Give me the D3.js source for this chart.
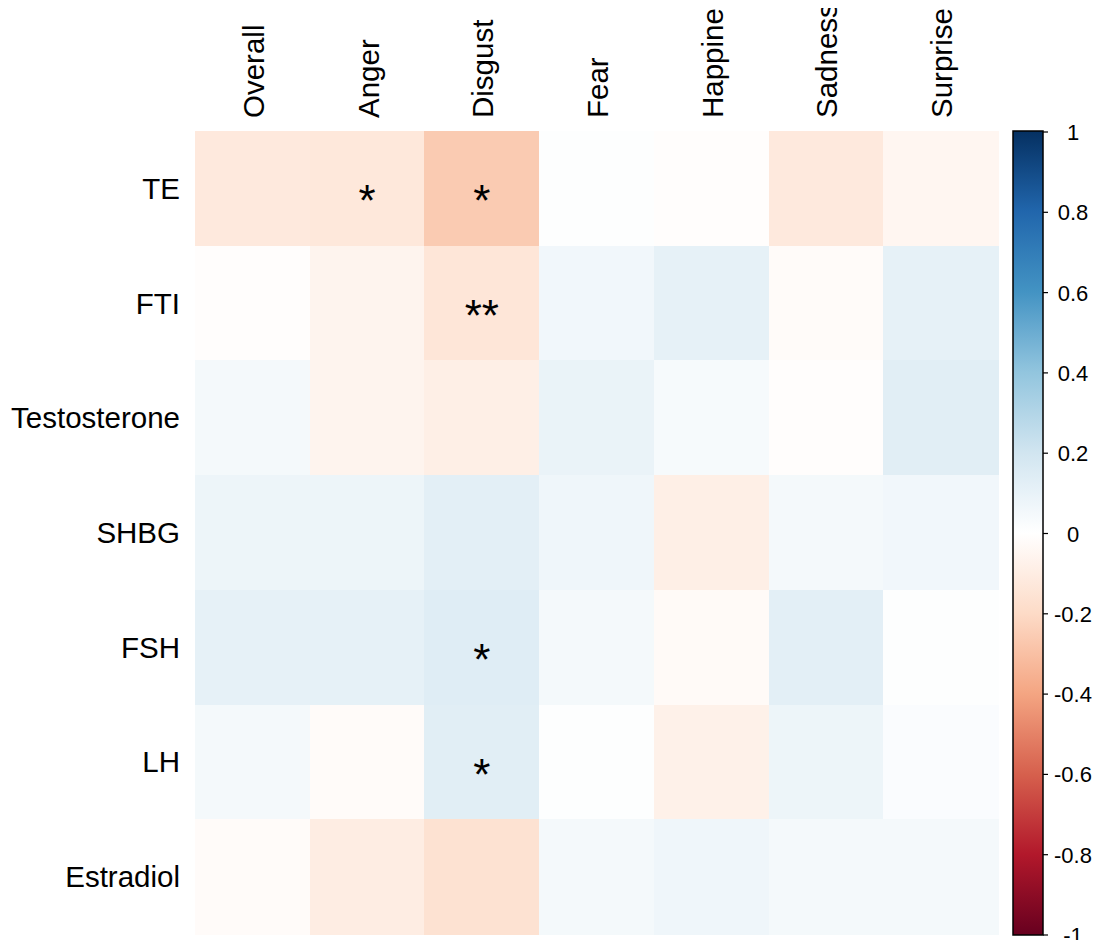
<!DOCTYPE html>
<html>
<head>
<meta charset="utf-8">
<script src="https://cdn.jsdelivr.net/npm/d3@7"></script>
<style>
  html, body { margin: 0; padding: 0; background: #fff; }
  svg { display: block; }
  text { font-family: "Liberation Sans", Arial, sans-serif; fill: #000; }
</style>
</head>
<body>
<svg id="chart" width="1102" height="940"></svg>
<script>
// Hormones (rows) and emotion-recognition scores (columns)
const rows = ["TE", "FTI", "Testosterone", "SHBG", "FSH", "LH", "Estradiol"];
const cols = ["Overall", "Anger", "Disgust", "Fear", "Happiness", "Sadness", "Surprise"];

// Correlation coefficients, one array per hormone, in column order
const rTE           = [-0.12, -0.13, -0.26,  0.01, -0.01, -0.12, -0.05];
const rFTI          = [-0.01, -0.06, -0.14,  0.06,  0.11, -0.02,  0.11];
const rTestosterone = [ 0.05, -0.06, -0.09,  0.09,  0.04, -0.01,  0.13];
const rSHBG         = [ 0.08,  0.08,  0.12,  0.07, -0.09,  0.05,  0.06];
const rFSH          = [ 0.11,  0.11,  0.14,  0.05, -0.03,  0.12,  0.01];
const rLH           = [ 0.05, -0.02,  0.13,  0.01, -0.08,  0.08,  0.02];
const rEstradiol    = [-0.02, -0.10, -0.16,  0.05,  0.07,  0.05,  0.05];

// Significance marks: [row, column, stars]
const sigMarks = [
  ["TE", "Anger", "*"],
  ["TE", "Disgust", "*"],
  ["FTI", "Disgust", "**"],
  ["FSH", "Disgust", "*"],
  ["LH", "Disgust", "*"]
];

// Colour legend tick labels
const legendTicks = [1, 0.8, 0.6, 0.4, 0.2, 0, -0.2, -0.4, -0.6, -0.8, -1];

const matrix = [rTE, rFTI, rTestosterone, rSHBG, rFSH, rLH, rEstradiol];
const cells = [];
matrix.forEach((vals, i) => vals.forEach((v, j) => cells.push({ row: rows[i], col: cols[j], value: v })));

// Diverging red-white-blue palette
const rdbu = ["#67001F", "#B2182B", "#D6604D", "#F4A582", "#FDDBC7", "#FFFFFF",
              "#D1E5F0", "#92C5DE", "#4393C3", "#2166AC", "#053061"];
const color = d3.scaleLinear()
  .domain(d3.range(11).map(k => -1 + k * 0.2))
  .range(rdbu)
  .interpolate(d3.interpolateRgb)
  .clamp(true);

const svg = d3.select("#chart");
const defs = svg.append("defs");

const gridLeft = 195, gridTop = 131, gridRight = 998, gridBottom = 934;
const x = d3.scaleBand().domain(cols).range([gridLeft, gridRight]);
const y = d3.scaleBand().domain(rows).range([gridTop, gridBottom]);

// Heatmap cells
svg.append("g")
  .selectAll("rect")
  .data(cells)
  .join("rect")
  .attr("x", d => x(d.col))
  .attr("y", d => y(d.row))
  .attr("width", x.bandwidth() + 0.5)
  .attr("height", y.bandwidth() + 0.5)
  .attr("fill", d => color(d.value))
  .attr("shape-rendering", "crispEdges");

// Significance stars
svg.append("g")
  .selectAll("text")
  .data(sigMarks)
  .join("text")
  .attr("x", d => x(d[1]) + x.bandwidth() / 2)
  .attr("y", d => y(d[0]) + y.bandwidth() / 2 + 28)
  .attr("text-anchor", "middle")
  .style("font-size", "44px")
  .text(d => d[2]);

// Row labels
svg.append("g")
  .selectAll("text")
  .data(rows)
  .join("text")
  .attr("x", 180)
  .attr("y", d => y(d) + y.bandwidth() / 2 + 10.5)
  .attr("text-anchor", "end")
  .style("font-size", "29.5px")
  .text(d => d);

// Column labels, rotated and clipped along the top of the figure region
defs.append("clipPath").attr("id", "figclip")
  .append("rect").attr("x", 0).attr("y", 8).attr("width", 1102).attr("height", 932);

svg.append("g")
  .attr("clip-path", "url(#figclip)")
  .selectAll("text")
  .data(cols)
  .join("text")
  .attr("transform", d => `translate(${x(d) + x.bandwidth() / 2 + 11.5},118) rotate(-90)`)
  .attr("text-anchor", "start")
  .style("font-size", "29.5px")
  .text(d => d);

// Colour legend bar
const barLeft = 1013, barWidth = 30, barTop = 131, barBottom = 935;
const ly = d3.scaleLinear().domain([1, -1]).range([132, 935]);

const grad = defs.append("linearGradient")
  .attr("id", "legendGrad")
  .attr("x1", 0).attr("y1", 0).attr("x2", 0).attr("y2", 1);
d3.range(0, 1.0001, 0.05).forEach(t => {
  grad.append("stop")
    .attr("offset", t)
    .attr("stop-color", color(1 - 2 * t));
});

svg.append("rect")
  .attr("x", barLeft)
  .attr("y", barTop)
  .attr("width", barWidth)
  .attr("height", barBottom - barTop)
  .attr("fill", "url(#legendGrad)")
  .attr("stroke", "#000")
  .attr("stroke-width", 1.5);

const legendAxis = svg.append("g");
legendAxis.selectAll("line")
  .data(legendTicks)
  .join("line")
  .attr("x1", barLeft + barWidth)
  .attr("x2", barLeft + barWidth + 5)
  .attr("y1", d => ly(d))
  .attr("y2", d => ly(d))
  .attr("stroke", "#000")
  .attr("stroke-width", 1.2);

legendAxis.selectAll("text")
  .data(legendTicks)
  .join("text")
  .attr("x", 1073)
  .attr("y", d => ly(d) + 8)
  .attr("text-anchor", "middle")
  .style("font-size", "22px")
  .text(d => String(d));
</script>
</body>
</html>
